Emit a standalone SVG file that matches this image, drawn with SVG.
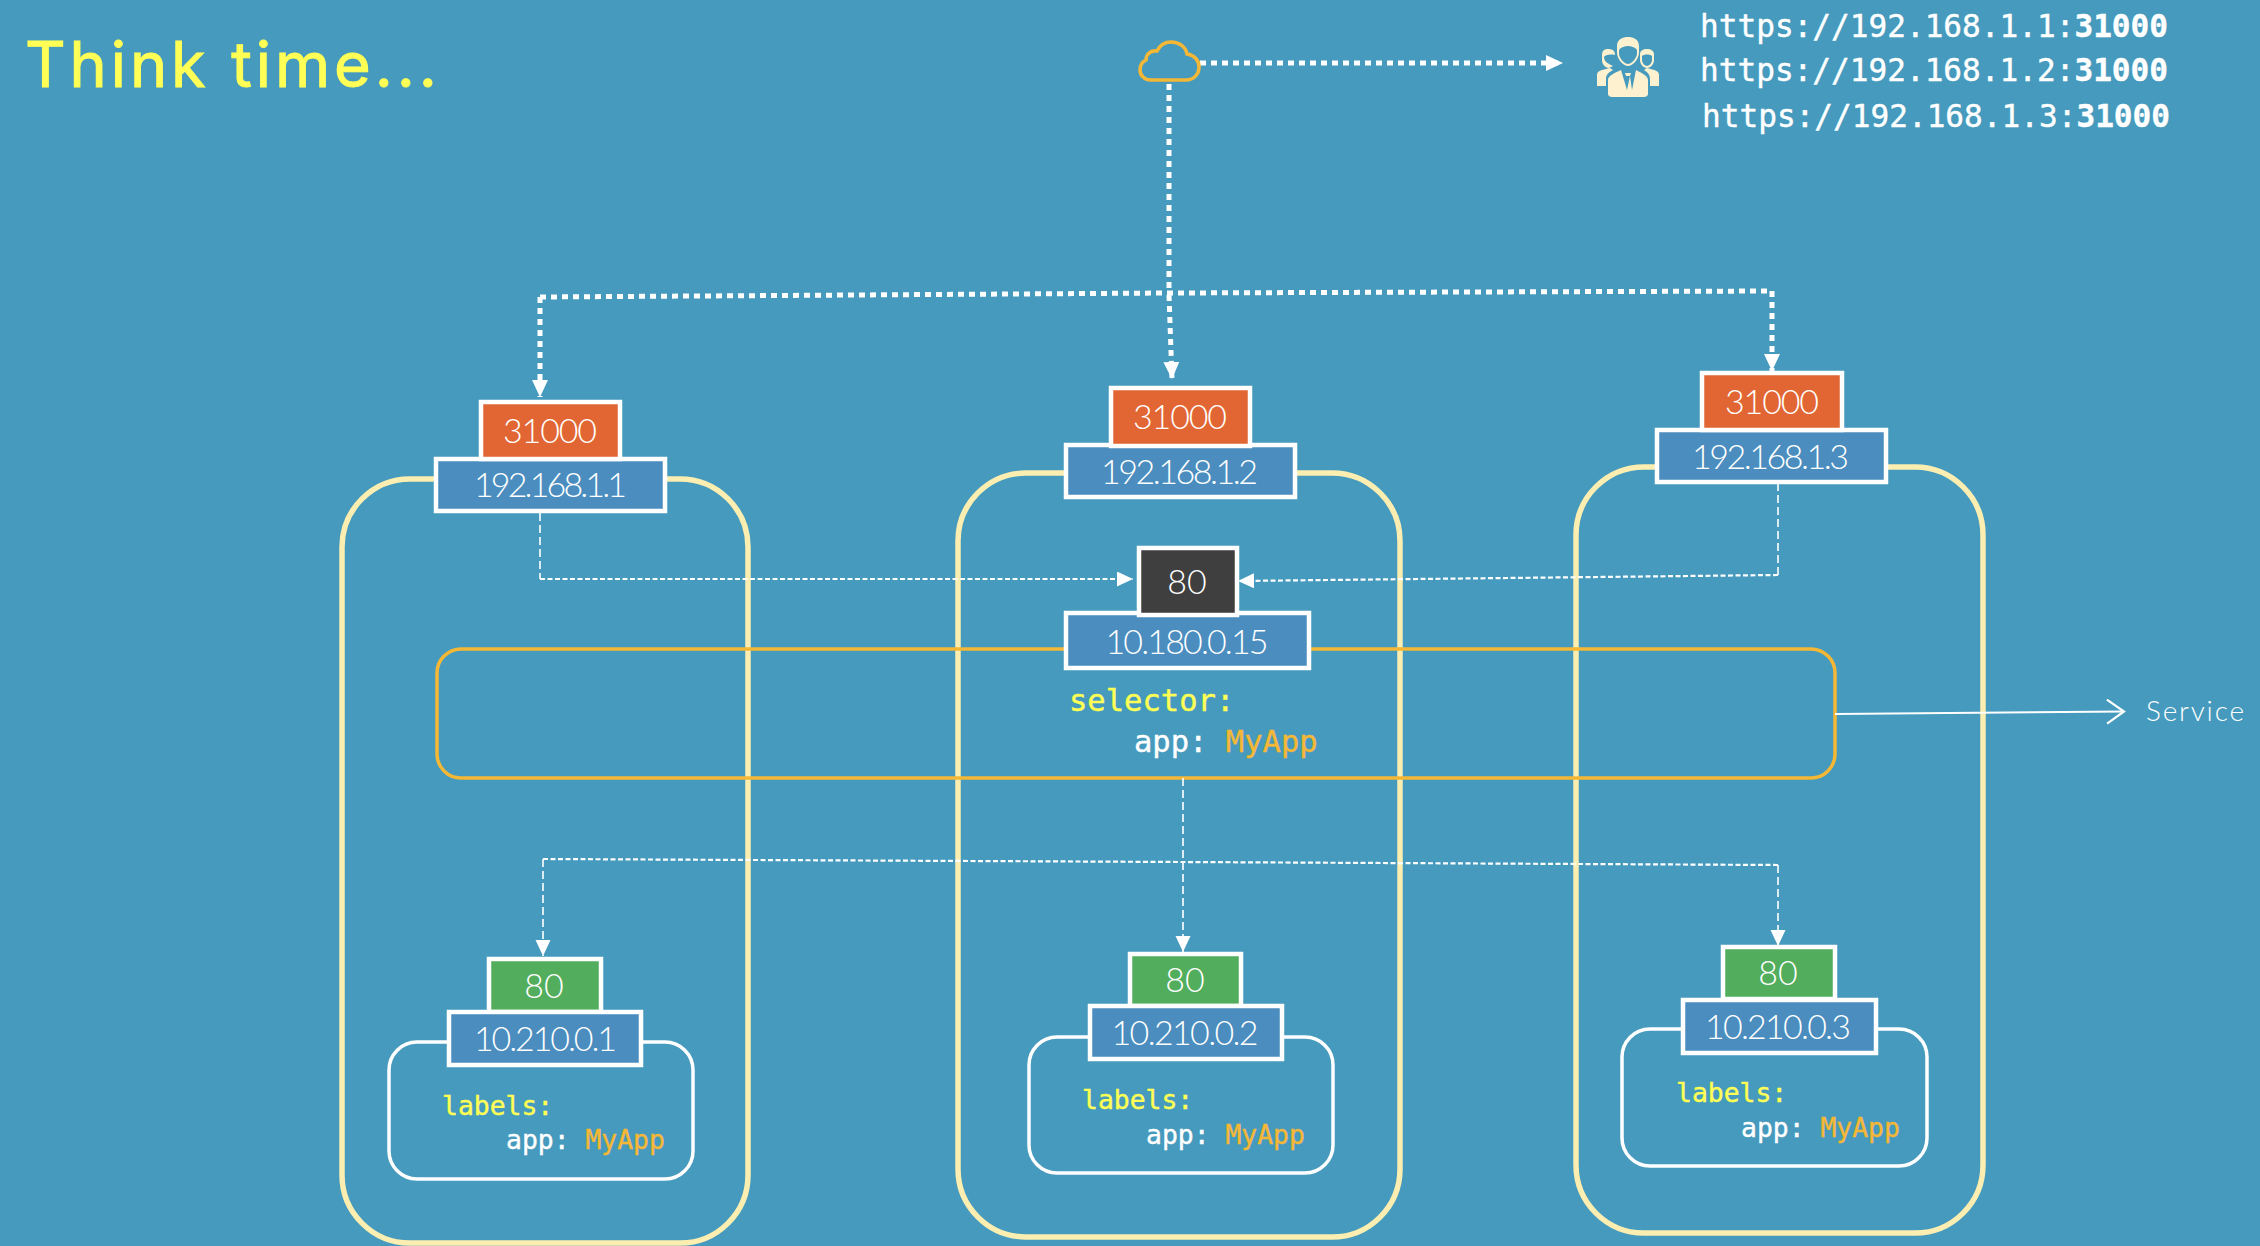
<svg xmlns="http://www.w3.org/2000/svg" width="2260" height="1246" viewBox="0 0 2260 1246">
<style>
.t{font-family:"Lato","Open Sans","Liberation Sans",sans-serif;font-weight:300;font-size:34px;fill:#fff;text-anchor:middle}
.m{font-family:"DejaVu Sans Mono","Liberation Mono",monospace;stroke-width:.4}
.c{font-size:26.4px;fill:#fff;stroke:#fff}
.s{font-size:30.5px;fill:#fff;stroke:#fff}
.y{fill:#ffff55;stroke:#ffff55}
.o{fill:#f5b836;stroke:#f5b836}
.u{font-size:31.1px;fill:#fff;stroke:#fff}
.node{fill:none;stroke:#fbeeb0;stroke-width:5.5}
.pod{fill:none;stroke:#fff;stroke-width:3.5}
.b{stroke:#fff;stroke-width:4.5}
.blue{fill:#4a8dbe}
.org{fill:#e16633}
.grn{fill:#52ad5c}
.blk{fill:#3f3f3f}
.thick{fill:none;stroke:#fff;stroke-width:5;stroke-dasharray:6 5}
.thin{fill:none;stroke:#fff;stroke-width:1.6;stroke-dasharray:8 4}
.thinh{fill:none;stroke:#fff;stroke-width:2.2;stroke-dasharray:5 2.5}
</style>
<defs>
<marker id="big" markerUnits="userSpaceOnUse" markerWidth="18" markerHeight="18" refX="17" refY="8" orient="auto"><path d="M0 0L17 8L0 16Z" fill="#fff"/></marker>
<marker id="small" markerUnits="userSpaceOnUse" markerWidth="17" markerHeight="16" refX="16" refY="7.5" orient="auto"><path d="M0 0L16 7.5L0 15Z" fill="#fff"/></marker>
<marker id="open" markerUnits="userSpaceOnUse" markerWidth="20" markerHeight="28" refX="18" refY="13" orient="auto"><path d="M1 1L18 13L1 25" fill="none" stroke="#fff" stroke-width="2.2"/></marker>
</defs>
<rect width="2260" height="1246" fill="#459abd"/>
<text x="25" y="87" font-family="Inter,'Open Sans',sans-serif" font-size="63" fill="#ffff55" stroke="#ffff55" stroke-width="1" textLength="412">Think time...</text>

<g id="worker-1"><rect class="node" x="342" y="479" width="406" height="764" rx="68"/></g>
<g id="worker-2"><rect class="node" x="958" y="473" width="442" height="764" rx="68"/></g>
<g id="worker-3"><rect class="node" x="1576" y="467" width="407" height="766" rx="68"/></g>

<g id="service"><rect x="437" y="649" width="1398" height="129" rx="24" fill="none" stroke="#f5b836" stroke-width="3.5"/></g>

<g id="connectors">
<path class="thick" d="M1169 84V293"/>
<path class="thick" d="M1200 63H1563" marker-end="url(#big)"/>
<path class="thick" d="M540 297L1169 293L1772 291"/>
<path class="thick" d="M540 297V397" marker-end="url(#big)"/>
<path class="thick" d="M1169 295L1172 379" marker-end="url(#big)"/>
<path class="thick" d="M1772 291V371" marker-end="url(#big)"/>
<path class="thin" d="M540 513V579"/>
<path class="thinh" d="M540 579H1133" marker-end="url(#small)"/>
<path class="thin" d="M1778 483V575"/>
<path class="thinh" d="M1778 575L1238 581" marker-end="url(#small)"/>
<path class="thin" d="M1183 778V952" marker-end="url(#small)"/>
<path class="thinh" d="M543 859L1183 862L1778 865"/>
<path class="thin" d="M543 859V956" marker-end="url(#small)"/>
<path class="thin" d="M1778 865V946" marker-end="url(#small)"/>
<path d="M1835 714L2124 711.5" fill="none" stroke="#fff" stroke-width="2" marker-end="url(#open)"/>
</g>

<g id="cloud"><path d="M1151 80H1186C1194 80 1199 74 1199 67C1199 60 1194 55 1187 54C1186 47 1179 42 1171 42C1165 42 1160 45 1157 51C1151 50 1146 54 1146 60C1142 62 1140 66 1140 70C1140 76 1145 80 1151 80Z" fill="none" stroke="#f5b836" stroke-width="3.6"/></g>

<g id="users" fill="#fdf1cf">
<path d="M1597 86V75C1597 71 1601 70 1610 68L1613 70C1607 73 1606 76 1606 79V86Z"/>
<path d="M1659 86V75C1659 71 1655 70 1647 68L1644 70C1649 73 1650 76 1650 79V86Z"/>
<path d="M1608 94V80C1608 76 1614 73 1621 70L1627 90L1630 76H1626L1625 73H1631L1630 76L1632 90L1636 70C1642 73 1648 76 1648 80V94C1648 96 1646 97 1644 97H1612C1610 97 1608 96 1608 94Z"/>
<path fill-rule="evenodd" d="M1628 37C1623 37 1617 39 1617 46V52C1617 60 1624 66 1628 66C1632 66 1639 60 1639 52V46C1639 39 1633 37 1628 37ZM1619 50C1621 47 1625 46 1628 46C1631 46 1635 47 1637 50V53C1637 59 1631 64 1628 64C1625 64 1619 59 1619 53Z"/>
<path d="M1608 49C1604 49 1602 51 1602 55V60C1602 64 1605 68 1609 68L1613 66C1609 64 1604 62 1604 57C1605 55 1610 54 1615 55C1615 51 1613 49 1608 49Z"/>
<path fill-rule="evenodd" d="M1647 49C1643 49 1640 51 1640 54V60C1640 64 1643 68 1647 68C1651 68 1654 64 1654 60V54C1654 51 1651 49 1647 49ZM1642 56C1644 54 1650 54 1652 56V60C1652 63 1649 66 1647 66C1645 66 1642 63 1642 60Z"/>
</g>

<g id="urls" class="m">
<text class="u" x="1700" y="37">https://192.168.1.1:<tspan font-weight="bold">31000</tspan></text>
<text class="u" x="1700" y="81">https://192.168.1.2:<tspan font-weight="bold">31000</tspan></text>
<text class="u" x="1702" y="127">https://192.168.1.3:<tspan font-weight="bold">31000</tspan></text>
</g>

<g id="nodeip-1"><rect class="b blue" x="436" y="459" width="229" height="52"/><text class="t" x="550.5" y="497" textLength="153">192.168.1.1</text></g>
<g id="nodeport-1"><rect class="b org" x="481" y="402" width="139" height="57"/><text class="t" x="550" y="443" textLength="94">31000</text></g>
<g id="nodeip-2"><rect class="b blue" x="1066" y="445" width="229" height="52"/><text class="t" x="1179.5" y="484" textLength="157">192.168.1.2</text></g>
<g id="nodeport-2"><rect class="b org" x="1111" y="388" width="139" height="58"/><text class="t" x="1180" y="429" textLength="94">31000</text></g>
<g id="nodeip-3"><rect class="b blue" x="1657" y="430" width="229" height="52"/><text class="t" x="1770.5" y="469" textLength="157">192.168.1.3</text></g>
<g id="nodeport-3"><rect class="b org" x="1702" y="373" width="140" height="57"/><text class="t" x="1772" y="414" textLength="94">31000</text></g>

<g id="cluster-ip"><rect class="b blue" x="1066" y="613" width="243" height="55"/><text class="t" x="1187" y="654" textLength="163">10.180.0.15</text></g>
<g id="service-port"><rect class="b blk" x="1139" y="548" width="98" height="67"/><text class="t" x="1187" y="594">80</text></g>
<g id="selector" class="m">
<text class="s y" x="1069" y="711">selector:</text>
<text class="s" x="1134" y="752">app: <tspan class="o">MyApp</tspan></text>
</g>

<g id="pod-1"><rect class="pod" x="389" y="1042" width="304" height="137" rx="28"/>
<rect class="b grn" x="489" y="959" width="112" height="53"/><text class="t" x="544" y="998">80</text>
<rect class="b blue" x="449" y="1012" width="192" height="53"/><text class="t" x="545.5" y="1051" textLength="143">10.210.0.1</text>
<text class="m c y" x="442" y="1115">labels:</text><text class="m c" x="506" y="1149">app: <tspan class="o">MyApp</tspan></text></g>

<g id="pod-2"><rect class="pod" x="1029" y="1037" width="304" height="136" rx="28"/>
<rect class="b grn" x="1130" y="954" width="111" height="52"/><text class="t" x="1185" y="992">80</text>
<rect class="b blue" x="1090" y="1006" width="192" height="53"/><text class="t" x="1185" y="1045" textLength="147">10.210.0.2</text>
<text class="m c y" x="1082" y="1109">labels:</text><text class="m c" x="1146" y="1144">app: <tspan class="o">MyApp</tspan></text></g>

<g id="pod-3"><rect class="pod" x="1622" y="1029" width="305" height="137" rx="28"/>
<rect class="b grn" x="1723" y="947" width="112" height="52"/><text class="t" x="1778" y="985">80</text>
<rect class="b blue" x="1683" y="1000" width="193" height="53"/><text class="t" x="1778" y="1039" textLength="146">10.210.0.3</text>
<text class="m c y" x="1676" y="1102">labels:</text><text class="m c" x="1741" y="1137">app: <tspan class="o">MyApp</tspan></text></g>

<g id="service-label"><text class="t" x="2146" y="721" style="text-anchor:start;font-size:28px" textLength="98">Service</text></g>
</svg>
